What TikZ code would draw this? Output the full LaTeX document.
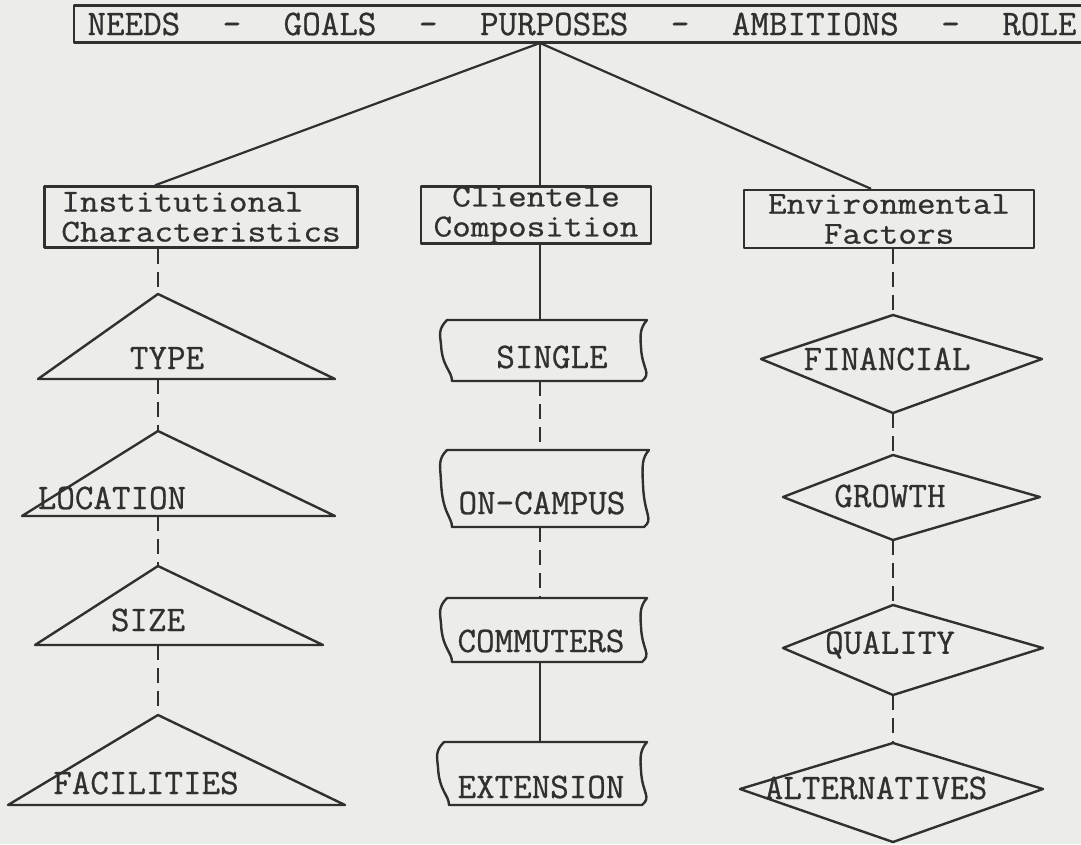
\documentclass[tikz,border=0pt]{standalone}
\usepackage{fontspec}
\newfontfamily\typer[FakeBold=0.7]{Latin Modern Mono}
\definecolor{paper}{RGB}{236,236,233}
\definecolor{ink}{RGB}{48,48,48}
% wavy-sided box: left, top, right, bottom
\newcommand\tapebox[4]{%
  \draw[ink] ({#1+7},#2) -- ({#3+2},#2)
    .. controls ({#3-5},{#2+8}) and ({#3-5},{#2+15}) .. ({#3-4},{#2+0.45*(#4-#2)})
    .. controls ({#3-3},{#4-12}) and ({#3+7},{#4-8}) .. ({#3-3},#4)
    -- ({#1+12},#4)
    .. controls ({#1+12},{#4-10}) and ({#1+2},{#4-14}) .. ({#1+1},{#2+0.4*(#4-#2)})
    .. controls ({#1},{#2+15}) and ({#1-2},{#2+9}) .. cycle;}
% one line of a two-line heading, widened a little
\newcommand\wline[1]{\scalebox{1.13}[1]{#1}}
\begin{document}
\begin{tikzpicture}[x=1pt,y=-1pt,
  ink/.style={draw=ink,line width=2.4pt,line join=round},
  link/.style={ink,line width=2.2pt},
  dlink/.style={link,dash pattern=on 15pt off 8pt},
  lbl/.style={font=\typer\fontsize{36}{27}\selectfont,text=ink,inner sep=0pt},
  hd/.style={font=\typer\fontsize{32}{30}\selectfont,text=ink,inner sep=0pt},
  frame/.style={ink,rectangle,inner sep=0pt}]
\fill[paper] (0,0) rectangle (1081,844);
\useasboundingbox (0,0) rectangle (1081,844);

% top heading box
\node[frame,lbl,minimum width=1016pt,minimum height=37pt] (top) at (582,24)
  {\makebox[989pt]{NEEDS\hfill-\hfill GOALS\hfill-\hfill PURPOSES\hfill-\hfill AMBITIONS\hfill-\hfill ROLE}};
\coordinate (hub) at (540,43);

% second level
\node[frame,hd,minimum width=313pt,minimum height=61pt,align=left] (inst) at (201,217)
  {\wline{Institutional}\\\wline{Characteristics}};
\node[frame,hd,minimum width=230pt,minimum height=56pt,align=center] (clie) at (536,215)
  {\wline{Clientele}\\\wline{Composition}};
\node[frame,hd,minimum width=290pt,minimum height=58pt,align=center] (env) at (889,219)
  {\wline{Environmental}\\\wline{Factors}};

\draw[link] (hub) -- ([xshift=-46pt]inst.north);
\draw[link] (hub) -- (hub |- clie.north);
\draw[link] (hub) -- ([xshift=-18pt]env.north);

% left column: triangles
\coordinate (ta) at (158,294); \coordinate (tb) at (158,379);
\draw[ink] (ta) -- (335,379) -- (38,379) -- cycle;
\node[lbl] (type) at (167,358) {TYPE};
\coordinate (la) at (158,431); \coordinate (lb) at (158,516);
\draw[ink] (la) -- (335,516) -- (22,516) -- cycle;
\node[lbl] (loc) at (112,498) {LOCATION};
\coordinate (sa) at (158,566); \coordinate (sb) at (158,645);
\draw[ink] (sa) -- (323,645) -- (35,645) -- cycle;
\node[lbl] (size) at (148,620) {SIZE};
\coordinate (fa) at (158,715); \coordinate (fb) at (158,805);
\draw[ink] (fa) -- (345,805) -- (8,805) -- cycle;
\node[lbl] (fac) at (146,783) {FACILITIES};

\draw[dlink] (ta |- inst.south) -- (ta);
\draw[dlink] (tb) -- (la);
\draw[dlink] (lb) -- (sa);
\draw[dlink] (sb) -- (fa);

% middle column: wavy boxes
\tapebox{440}{320}{645}{381}
\coordinate (sgn) at (540,320); \coordinate (sgs) at (540,381);
\node[lbl] (single) at (552,357) {SINGLE};
\tapebox{440}{450}{647}{527}
\coordinate (onn) at (540,450); \coordinate (ons) at (540,527);
\node[lbl] (oncampus) at (542,503) {ON-CAMPUS};
\tapebox{440}{598}{645}{662}
\coordinate (cmn) at (540,598); \coordinate (cms) at (540,662);
\node[lbl] (commuters) at (541,641) {COMMUTERS};
\tapebox{437}{742}{645}{805}
\coordinate (exn) at (540,742); \coordinate (exs) at (540,805);
\node[lbl] (extension) at (541,787) {EXTENSION};

\draw[link] (sgn |- clie.south) -- (sgn);
\draw[dlink] (sgs) -- (onn);
\draw[dlink] (ons) -- (cmn);
\draw[link] (cms) -- (exn);

% right column: diamonds
\coordinate (d1n) at (893,315); \coordinate (d1s) at (893,413);
\draw[ink] (d1n) -- (1042,359) -- (d1s) -- (761,359) -- cycle;
\node[lbl] (financial) at (887,359) {FINANCIAL};
\coordinate (d2n) at (893,455); \coordinate (d2s) at (893,540);
\draw[ink] (d2n) -- (1040,497) -- (d2s) -- (783,497) -- cycle;
\node[lbl] (growth) at (890,496) {GROWTH};
\coordinate (d3n) at (893,605); \coordinate (d3s) at (893,695);
\draw[ink] (d3n) -- (1043,648) -- (d3s) -- (783,648) -- cycle;
\node[lbl] (quality) at (890,645) {QUALITY};
\coordinate (d4n) at (893,743); \coordinate (d4s) at (893,842);
\draw[ink] (d4n) -- (1043,789) -- (d4s) -- (740,789) -- cycle;
\node[lbl] (alternatives) at (876,788) {ALTERNATIVES};

\draw[dlink] (d1n |- env.south) -- (d1n);
\draw[dlink] (d1s) -- (d2n);
\draw[dlink] (d2s) -- (d3n);
\draw[dlink] (d3s) -- (d4n);
\end{tikzpicture}
\end{document}
